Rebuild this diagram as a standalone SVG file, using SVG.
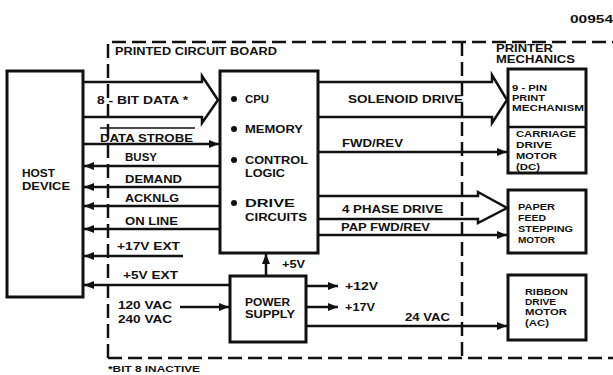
<svg xmlns="http://www.w3.org/2000/svg" width="613" height="375" viewBox="0 0 613 375">
<style>
text{font-family:"Liberation Sans",Arial,sans-serif;font-weight:bold;font-size:11px;fill:#111}
.sm{font-size:9.5px}
.box{fill:none;stroke:#111;stroke-width:3}
.ln{fill:none;stroke:#111;stroke-width:2.5}
.dash{fill:none;stroke:#111;stroke-width:2.5;stroke-dasharray:14 6}
.big{fill:none;stroke:#111;stroke-width:2.5;stroke-linejoin:miter}
</style>
<defs>
<marker id="ah" viewBox="0 0 10 8" refX="10" refY="4" markerWidth="10" markerHeight="8" markerUnits="userSpaceOnUse" orient="auto">
<path d="M0,0 L10,4 L0,8 z" fill="#111"/>
</marker>
</defs>
<rect width="613" height="375" fill="#fff"/>
<text x="570" y="23" textLength="43" lengthAdjust="spacingAndGlyphs">00954</text>
<g id="boundaries">
<path class="dash" d="M108,358 V42 H613"/>
<path class="dash" d="M108,358 H613"/>
<path class="dash" d="M462,42 V358"/>
<text x="115" y="55" textLength="162" lengthAdjust="spacingAndGlyphs">PRINTED CIRCUIT BOARD</text>
<text x="496" y="52" textLength="57" lengthAdjust="spacingAndGlyphs">PRINTER</text>
<text x="496" y="63" textLength="79" lengthAdjust="spacingAndGlyphs">MECHANICS</text>
<text x="108" y="372" class="sm" textLength="92" lengthAdjust="spacingAndGlyphs">*BIT 8 INACTIVE</text>
</g>
<g id="host">
<rect class="box" x="7" y="71" width="76" height="226"/>
<text x="22" y="177" textLength="33" lengthAdjust="spacingAndGlyphs">HOST</text>
<text x="22" y="190" textLength="48" lengthAdjust="spacingAndGlyphs">DEVICE</text>
</g>
<g id="controller">
<path class="box" d="M220,253 V71 H318 V253 Z"/>
<circle cx="234" cy="99" r="3" fill="#111"/>
<text x="245" y="103" textLength="24" lengthAdjust="spacingAndGlyphs">CPU</text>
<circle cx="234" cy="129" r="3" fill="#111"/>
<text x="245" y="133" textLength="58" lengthAdjust="spacingAndGlyphs">MEMORY</text>
<circle cx="234" cy="160" r="3" fill="#111"/>
<text x="245" y="164" textLength="63" lengthAdjust="spacingAndGlyphs">CONTROL</text>
<text x="245" y="177" textLength="40" lengthAdjust="spacingAndGlyphs">LOGIC</text>
<circle cx="234" cy="203" r="3" fill="#111"/>
<text x="245" y="207" textLength="50" lengthAdjust="spacingAndGlyphs">DRIVE</text>
<text x="245" y="221" textLength="62" lengthAdjust="spacingAndGlyphs">CIRCUITS</text>
</g>
<g id="power">
<rect class="box" x="230" y="276" width="76" height="66"/>
<text x="245" y="306" textLength="45" lengthAdjust="spacingAndGlyphs">POWER</text>
<text x="245" y="318" textLength="50" lengthAdjust="spacingAndGlyphs">SUPPLY</text>
</g>
<g id="printhead">
<rect class="box" x="508" y="69" width="78" height="104"/>
<line class="ln" x1="508" y1="127" x2="586" y2="127"/>
<text x="512" y="91" class="sm" textLength="35" lengthAdjust="spacingAndGlyphs">9 - PIN</text>
<text x="512" y="101" class="sm" textLength="33" lengthAdjust="spacingAndGlyphs">PRINT</text>
<text x="512" y="111" class="sm" textLength="72" lengthAdjust="spacingAndGlyphs">MECHANISM</text>
<text x="516" y="137" class="sm" textLength="60" lengthAdjust="spacingAndGlyphs">CARRIAGE</text>
<text x="516" y="148" class="sm" textLength="36" lengthAdjust="spacingAndGlyphs">DRIVE</text>
<text x="516" y="159" class="sm" textLength="41" lengthAdjust="spacingAndGlyphs">MOTOR</text>
<text x="516" y="170" class="sm" textLength="24" lengthAdjust="spacingAndGlyphs">(DC)</text>
</g>
<g id="paperfeed">
<rect class="box" x="508" y="190" width="78" height="63"/>
<text x="518" y="210" class="sm" textLength="37" lengthAdjust="spacingAndGlyphs">PAPER</text>
<text x="518" y="221" class="sm" textLength="28" lengthAdjust="spacingAndGlyphs">FEED</text>
<text x="518" y="232" class="sm" textLength="55" lengthAdjust="spacingAndGlyphs">STEPPING</text>
<text x="518" y="243" class="sm" textLength="37" lengthAdjust="spacingAndGlyphs">MOTOR</text>
</g>
<g id="ribbon">
<rect class="box" x="508" y="275" width="78" height="65"/>
<text x="525" y="295" class="sm" textLength="43" lengthAdjust="spacingAndGlyphs">RIBBON</text>
<text x="525" y="305" class="sm" textLength="31" lengthAdjust="spacingAndGlyphs">DRIVE</text>
<text x="525" y="315" class="sm" textLength="42" lengthAdjust="spacingAndGlyphs">MOTOR</text>
<text x="525" y="326" class="sm" textLength="24" lengthAdjust="spacingAndGlyphs">(AC)</text>
</g>
<g id="connectors">
<path class="big" d="M83,82 H202 V76 L218,100 L202,123 V117 H83"/>
<text x="97" y="104" textLength="91" lengthAdjust="spacingAndGlyphs">8 - BIT DATA *</text>
<path class="big" d="M318,82 H492 V75 L507,100 L492,123 V117 H318"/>
<text x="348" y="103" textLength="115" lengthAdjust="spacingAndGlyphs">SOLENOID DRIVE</text>
<path class="big" d="M318,196 H478 V192 L507,208 L478,223 V219 H318"/>
<text x="342" y="213" textLength="101" lengthAdjust="spacingAndGlyphs">4 PHASE DRIVE</text>
<line class="ln" x1="83" y1="144" x2="219" y2="144" marker-end="url(#ah)"/>
<line x1="100" y1="128" x2="195" y2="128" stroke="#111" stroke-width="1.5"/>
<text x="100" y="142" textLength="93" lengthAdjust="spacingAndGlyphs">DATA STROBE</text>
<line class="ln" x1="220" y1="166" x2="84" y2="166" marker-end="url(#ah)"/>
<text x="125" y="161" textLength="32" lengthAdjust="spacingAndGlyphs">BUSY</text>
<line class="ln" x1="220" y1="187" x2="84" y2="187" marker-end="url(#ah)"/>
<text x="125" y="183" textLength="57" lengthAdjust="spacingAndGlyphs">DEMAND</text>
<line class="ln" x1="220" y1="206" x2="84" y2="206" marker-end="url(#ah)"/>
<text x="125" y="202" textLength="54" lengthAdjust="spacingAndGlyphs">ACKNLG</text>
<line class="ln" x1="220" y1="229" x2="84" y2="229" marker-end="url(#ah)"/>
<text x="125" y="225" textLength="53" lengthAdjust="spacingAndGlyphs">ON LINE</text>
<line class="ln" x1="183" y1="256" x2="84" y2="256" marker-end="url(#ah)"/>
<text x="117" y="250" textLength="63" lengthAdjust="spacingAndGlyphs">+17V  EXT</text>
<line class="ln" x1="230" y1="285" x2="84" y2="285" marker-end="url(#ah)"/>
<text x="123" y="279" textLength="55" lengthAdjust="spacingAndGlyphs">+5V  EXT</text>
<line class="ln" x1="180" y1="307" x2="229" y2="307" marker-end="url(#ah)"/>
<text x="118" y="309" textLength="54" lengthAdjust="spacingAndGlyphs">120 VAC</text>
<text x="118" y="323" textLength="54" lengthAdjust="spacingAndGlyphs">240 VAC</text>
<line class="ln" x1="266" y1="276" x2="266" y2="254" marker-end="url(#ah)"/>
<text x="282" y="268" textLength="23" lengthAdjust="spacingAndGlyphs">+5V</text>
<line class="ln" x1="318" y1="152" x2="507" y2="152" marker-end="url(#ah)"/>
<text x="342" y="147" textLength="61" lengthAdjust="spacingAndGlyphs">FWD/REV</text>
<line class="ln" x1="318" y1="235" x2="507" y2="235" marker-end="url(#ah)"/>
<text x="341" y="231" textLength="89" lengthAdjust="spacingAndGlyphs">PAP FWD/REV</text>
<line class="ln" x1="306" y1="286" x2="338" y2="286" marker-end="url(#ah)"/>
<text x="345" y="290" textLength="33" lengthAdjust="spacingAndGlyphs">+12V</text>
<line class="ln" x1="306" y1="307" x2="338" y2="307" marker-end="url(#ah)"/>
<text x="345" y="311" textLength="30" lengthAdjust="spacingAndGlyphs">+17V</text>
<line class="ln" x1="306" y1="326" x2="507" y2="326" marker-end="url(#ah)"/>
<text x="405" y="321" textLength="45" lengthAdjust="spacingAndGlyphs">24 VAC</text>
</g>
</svg>
